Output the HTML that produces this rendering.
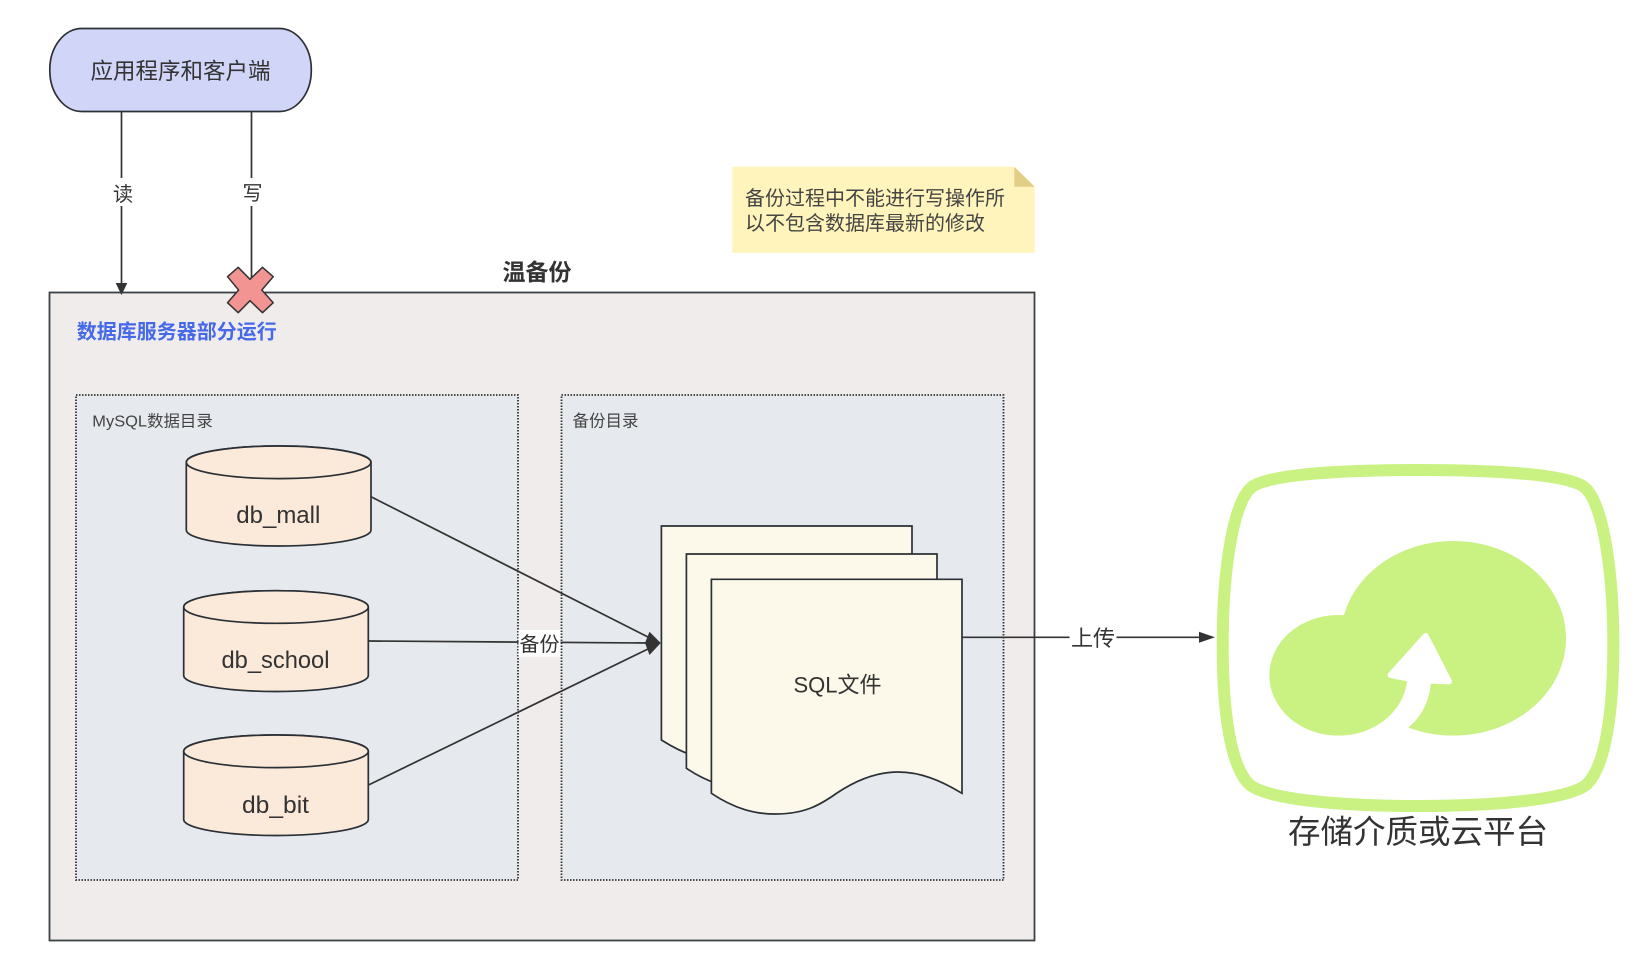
<!DOCTYPE html>
<html>
<head>
<meta charset="utf-8">
<style>
html,body{margin:0;padding:0;background:#fff;}
svg{display:block;}
text{font-family:"Liberation Sans","Noto Sans CJK SC",sans-serif;fill:#333;}
</style>
</head>
<body>
<svg width="1643" height="961" viewBox="0 0 1643 961" xmlns="http://www.w3.org/2000/svg">
<rect x="49.5" y="292.5" width="985" height="648" fill="#F0ECEB" stroke="#3c4146" stroke-width="1.8"/>
<rect x="76" y="395" width="442" height="485" fill="#E6E9ED" stroke="#333" stroke-width="1.8" stroke-dasharray="1.5 1.5"/>
<rect x="561.5" y="395" width="442" height="485" fill="#E6E9ED" stroke="#333" stroke-width="1.8" stroke-dasharray="1.5 1.5"/>

<rect x="49.8" y="28.5" width="261.5" height="83" rx="32" ry="41" fill="#D1D6F8" stroke="#2b3036" stroke-width="1.7"/>
<text x="180.5" y="79" font-size="22.5" text-anchor="middle">应用程序和客户端</text>

<line x1="121.5" y1="112" x2="121.5" y2="286" stroke="#333" stroke-width="1.7"/>
<polygon points="116.5,283.5 126.5,283.5 121.5,294" fill="#333" stroke="#333"/>
<line x1="251.5" y1="112" x2="251.5" y2="281" stroke="#333" stroke-width="1.7"/>
<rect x="110" y="178" width="26" height="28" fill="#fff"/>
<rect x="240" y="178" width="26" height="28" fill="#fff"/>
<text x="123" y="201" font-size="20" text-anchor="middle">读</text>
<text x="252.5" y="200" font-size="20" text-anchor="middle">写</text>

<polygon points="227.5,276.7 238.2,267.3 250,279.3 262.5,267.3 273.2,276.7 261.8,290 273.2,302.7 262.5,312.7 250,300.7 238.2,312.7 227.5,302.7 238.6,290" fill="#F19492" stroke="#333" stroke-width="1.5" stroke-linejoin="round"/>

<text x="537" y="280" font-size="23" font-weight="700" text-anchor="middle">温备份</text>
<text x="76.8" y="338.5" font-size="20" font-weight="700" style="fill:#4669EA">数据库服务器部分运行</text>
<text x="92.3" y="426.5" font-size="16" style="fill:#444" textLength="120.5" lengthAdjust="spacingAndGlyphs">MySQL数据目录</text>
<text x="572.5" y="426.5" font-size="16.5" style="fill:#444">备份目录</text>

<path d="M732.3,166.7 H1014.3 L1034.7,186.7 V252.7 H732.3 Z" fill="#FFF4BB"/>
<path d="M1014.3,166.7 L1034.7,186.7 H1014.3 Z" fill="#E3CE85"/>
<text x="745" y="205" font-size="20" style="fill:#444">备份过程中不能进行写操作所</text>
<text x="745" y="230" font-size="20" style="fill:#444">以不包含数据库最新的修改</text>

<!-- cylinders -->
<g fill="#FBE9DA" stroke="#2b3036" stroke-width="1.7">
<path d="M186.3,462.3 A92.3,16.3 0 0 1 371,462.3 V530 A92.3,16 0 0 1 186.3,530 Z"/>
<ellipse cx="278.6" cy="462.3" rx="92.3" ry="16.3"/>
<path d="M183.7,607 A92.3,16.3 0 0 1 368.3,607 V675.5 A92.3,16 0 0 1 183.7,675.5 Z"/>
<ellipse cx="276" cy="607" rx="92.3" ry="16.3"/>
<path d="M183.7,751.3 A92.3,16.3 0 0 1 368.3,751.3 V819.5 A92.3,16 0 0 1 183.7,819.5 Z"/>
<ellipse cx="276" cy="751.3" rx="92.3" ry="16.3"/>
</g>
<text x="278.3" y="523" font-size="24" text-anchor="middle" textLength="84" lengthAdjust="spacingAndGlyphs">db_mall</text>
<text x="275.5" y="668" font-size="24" text-anchor="middle" textLength="108" lengthAdjust="spacingAndGlyphs">db_school</text>
<text x="275.5" y="813" font-size="24" text-anchor="middle" textLength="67" lengthAdjust="spacingAndGlyphs">db_bit</text>

<!-- files -->
<g fill="#FCF8EA" stroke="#2b3036" stroke-width="1.7" stroke-linejoin="miter">
<path d="M661.4,526 H912 V740 C890,727 870,718 848,718 C825,718 810,727 787,740 C770,752 745,761 725,761 C705,761 685,755 661.4,740 Z"/>
<path d="M686.4,554 H937 V768.3 C915,755 895,746 873,746 C850,746 835,755 812,768.3 C795,780 770,789 750,789 C730,789 710,784 686.4,768.3 Z"/>
<path d="M711.4,579.3 H962 V793.3 C940,780 920,772 898,772 C875,772 855,781 837,793 C820,805 805,814 775,814 C755,814 735,809 711.4,793.3 Z"/>
</g>
<text x="837.5" y="692.5" font-size="22" text-anchor="middle">SQL文件</text>

<!-- connectors -->
<g stroke="#333" stroke-width="1.7" fill="none">
<line x1="371.5" y1="497" x2="648" y2="637"/>
<line x1="369" y1="641" x2="648" y2="643"/>
<line x1="368.5" y1="785" x2="648" y2="649"/>
<line x1="962.5" y1="637.3" x2="1202" y2="637.3"/>
</g>
<g fill="#333">
<polygon points="645,643 649.5,631.7 660.7,643 649.5,655"/>
<polygon points="1215,637.3 1199,631.8 1199,642.8"/>
</g>
<rect x="518.5" y="630" width="42" height="26.7" fill="#fff"/>
<text x="539.5" y="651" font-size="20" text-anchor="middle">备份</text>
<rect x="1069.5" y="624" width="47" height="28" fill="#fff"/>
<text x="1093" y="646" font-size="22" text-anchor="middle">上传</text>

<!-- cloud icon -->
<g transform="translate(1200,450) scale(0.33333)">
<path d="M654,60 C430,60 220,72 160,108 C100,145 68,360 68,585 C68,780 90,950 150,1005 C210,1050 430,1068 654,1068 C878,1068 1098,1050 1158,1005 C1218,950 1240,780 1240,585 C1240,360 1208,145 1148,108 C1088,72 878,60 654,60 Z" fill="none" stroke="#C9F282" stroke-width="36"/>
<ellipse cx="760" cy="565" rx="338" ry="292" fill="#C9F282"/>
<path d="M693,695 C688,760 660,805 625,832 L540,880 L600,695 Z" fill="#fff"/>
<ellipse cx="415" cy="676" rx="207" ry="181" fill="#C9F282"/>
<path d="M677,558 L747,694 L693,692 L627,686 L572,675 Z" fill="#fff" stroke="#fff" stroke-width="18" stroke-linejoin="round"/>
</g>
<text x="1418" y="843" font-size="32.5" text-anchor="middle">存储介质或云平台</text>
</svg>
</body>
</html>
